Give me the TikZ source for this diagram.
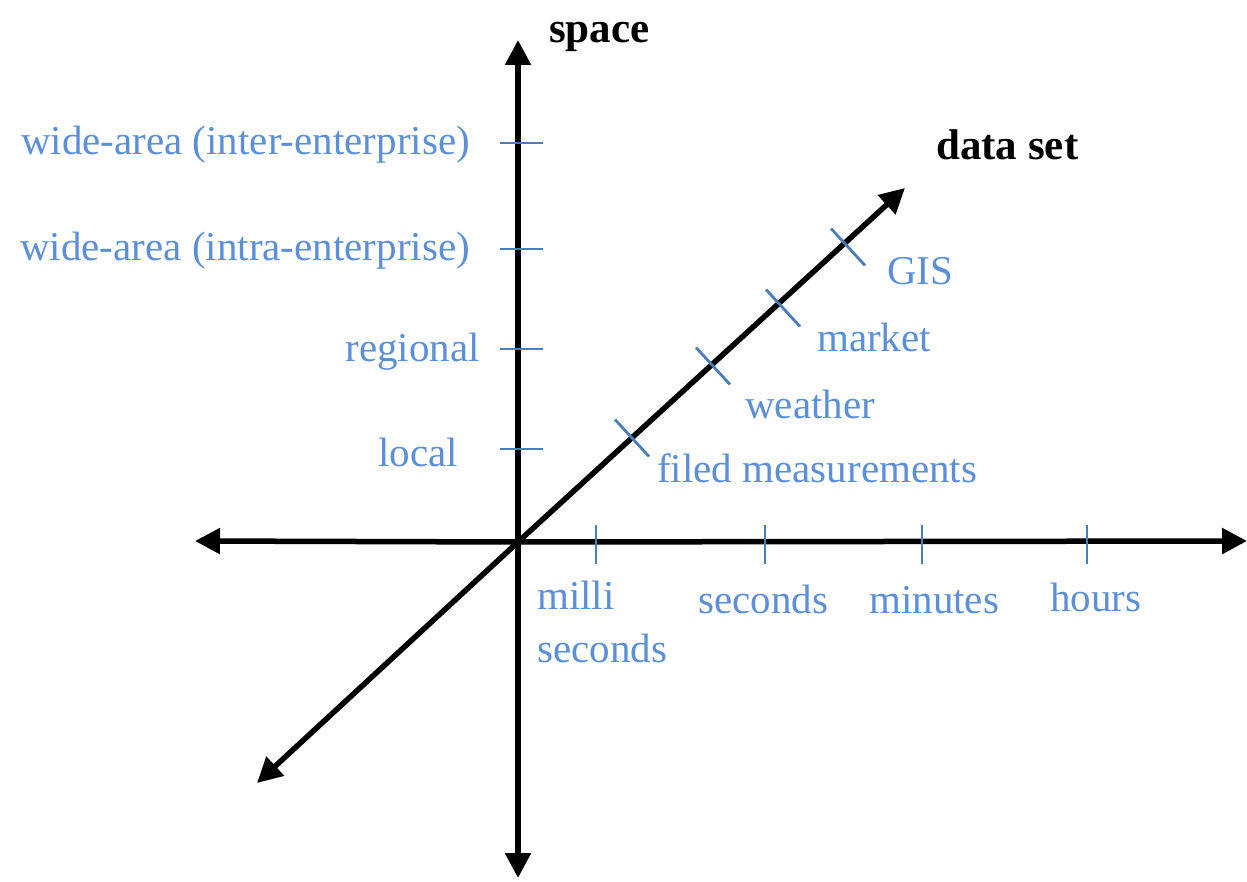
\documentclass[tikz,border=0pt]{standalone}
\usepackage{fontspec}
\setmainfont{Liberation Serif}
\usetikzlibrary{arrows.meta,calc}
\definecolor{lblue}{HTML}{5B8FD8}
\definecolor{tblue}{HTML}{4A7EBB}
\tikzset{
  axis/.style={line width=5.5pt,-{Triangle[length=25pt,width=25pt]}},
  tick/.style={line width=2.8pt,tblue},
  lbl/.style={text=lblue,font=\fontsize{41}{49}\selectfont,inner sep=0pt},
  ttl/.style={text=black,font=\fontsize{43}{50}\selectfont\bfseries,inner sep=0pt}
}
\begin{document}
\begin{tikzpicture}[x=1pt,y=-1pt]
\useasboundingbox (0,0) rectangle (1247,882);
\coordinate (O) at (518,542);
\coordinate (top) at (518,40);
\coordinate (bot) at (518,878);
\coordinate (lft) at (195,541);
\coordinate (rgt) at (1247,541);
\coordinate (dl) at (257,783);
\coordinate (dr) at (905,188);
\draw[axis] (O) -- (top);
\draw[axis] (O) -- (bot);
\draw[axis] (O) -- (lft);
\draw[axis] (O) -- (rgt);
\draw[axis] (O) -- (dl);
\draw[axis] (O) -- (dr);
% vertical ticks
\foreach \n/\y in {1/143,2/249,3/349,4/449}{
  \coordinate (v\n) at (518,\y);
  \draw[tick] ([xshift=-18pt]v\n) -- ([xshift=25pt]v\n);
}
% horizontal ticks
\foreach \n/\x in {1/596,2/765,3/922,4/1087}{
  \coordinate (h\n) at (\x,542);
  \draw[tick] ([yshift=17pt]h\n) -- ([yshift=-22pt]h\n);
}
% diagonal ticks
\foreach \n/\x/\y in {1/632/438,2/713/366,3/783/308,4/848/247}{
  \coordinate (d\n) at (\x,\y);
  \draw[tick] ($(d\n)+(-17,-18.5)$) -- ($(d\n)+(17,18.5)$);
}
% titles
\node[ttl,anchor=base west] (space) at (549,43) {space};
\node[ttl,anchor=base west] (dset) at (936,160) {data set};
% vertical labels
\node[lbl,anchor=base east] (l1) at (470,155) {wide-area (inter-enterprise)};
\node[lbl,anchor=base east] (l2) at (470,261) {wide-area (intra-enterprise)};
\node[lbl,anchor=base east] (l3) at (480,361) {regional};
\node[lbl,anchor=base east] (l4) at (458,466) {local};
% horizontal labels
\node[lbl,anchor=base west] (m1) at (537,609) {milli};
\node[lbl,anchor=base west] (m2) at (537,662) {seconds};
\node[lbl,anchor=base west] (m3) at (698,613) {seconds};
\node[lbl,anchor=base west] (m4) at (869,613) {minutes};
\node[lbl,anchor=base west] (m5) at (1050,611) {hours};
% diagonal labels
\node[lbl,anchor=base west] (g1) at (657,482) {filed measurements};
\node[lbl,anchor=base west] (g2) at (745,418) {weather};
\node[lbl,anchor=base west] (g3) at (817,352) {market};
\node[lbl,anchor=base west] (g4) at (887,285) {GIS};
\end{tikzpicture}
\end{document}
